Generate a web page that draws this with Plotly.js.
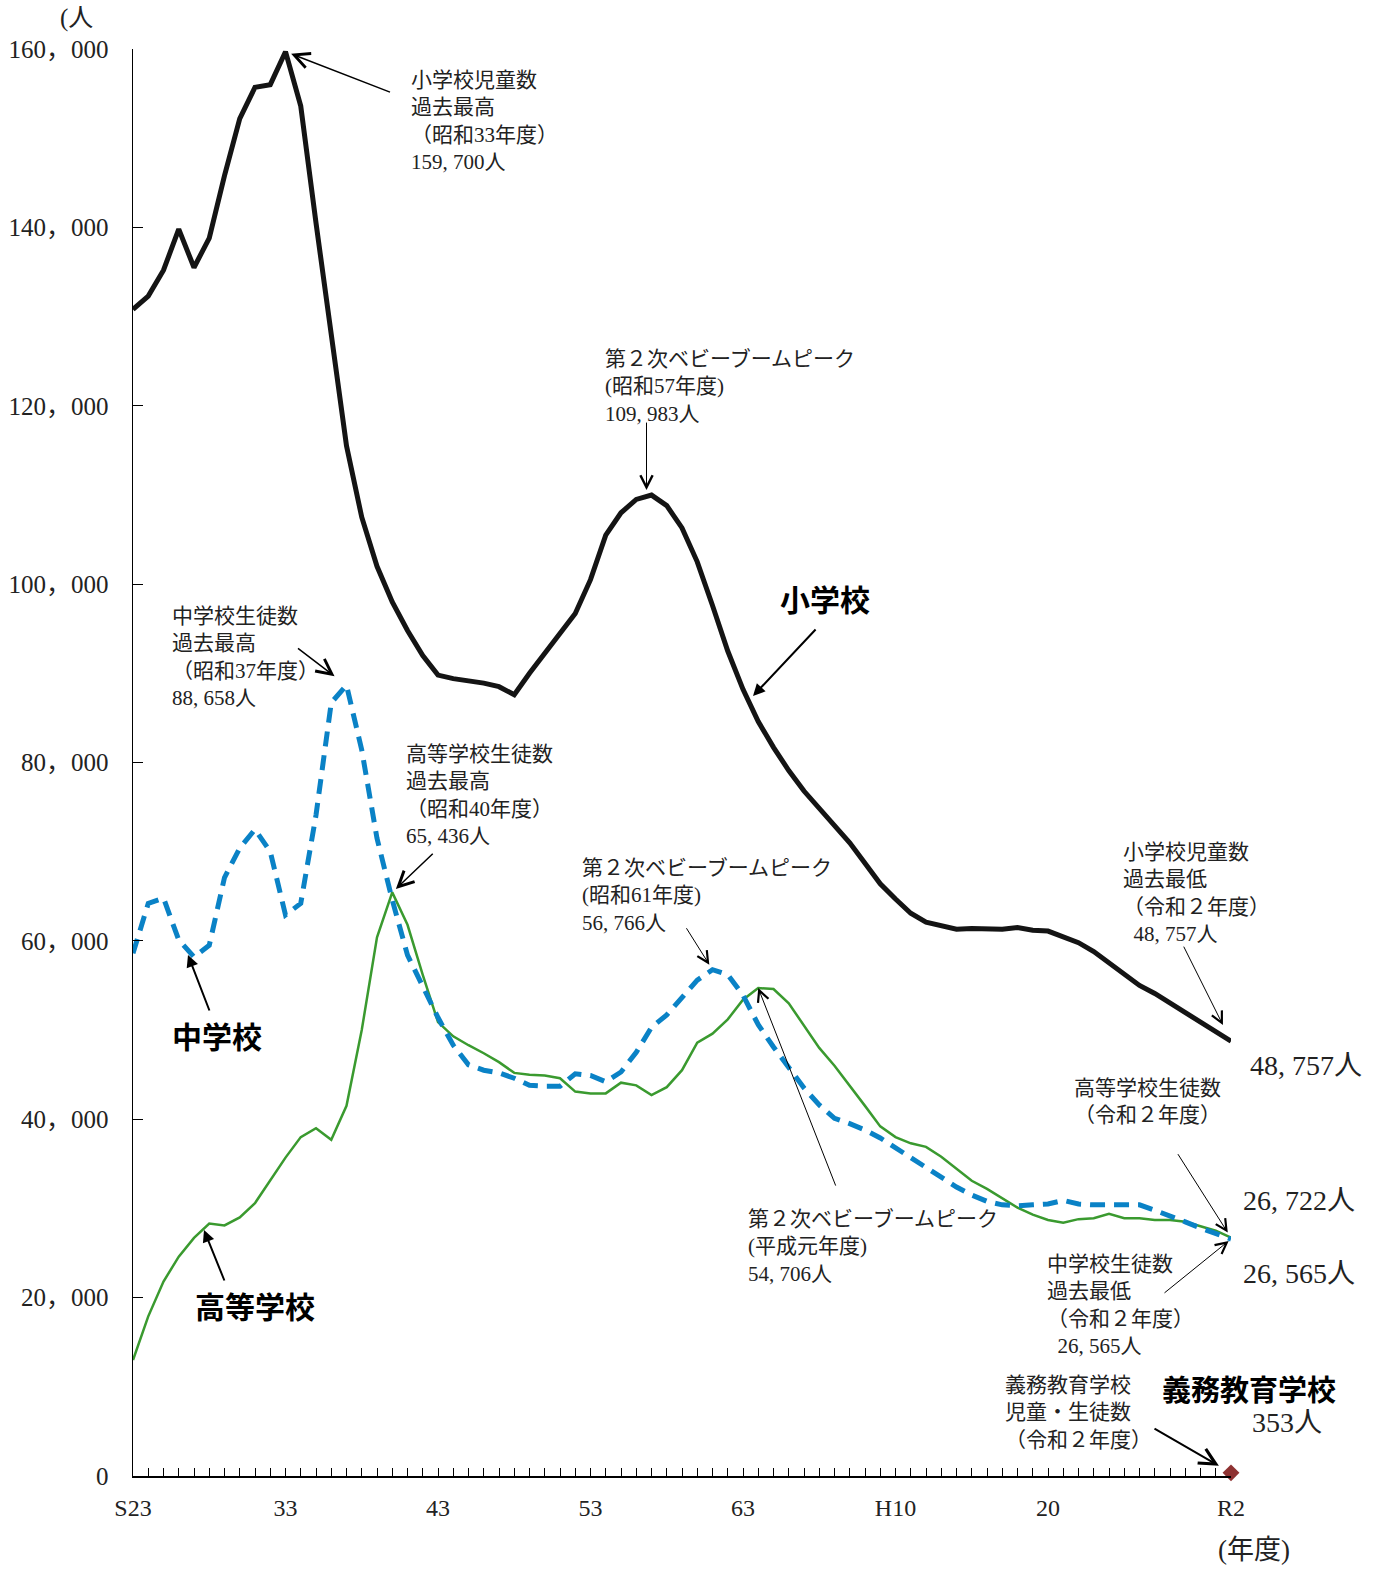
<!DOCTYPE html>
<html>
<head>
<meta charset="utf-8">
<script src="https://cdn.plot.ly/plotly-3.0.1.min.js"></script>
<style>html,body{margin:0;padding:0;background:#fff;}#chart{width:1400px;height:1587px;}</style>
</head>
<body>
<div id="chart"></div>
<script>
const years = [1948,1949,1950,1951,1952,1953,1954,1955,1956,1957,1958,1959,1960,1961,1962,1963,1964,1965,1966,1967,1968,1969,1970,1971,1972,1973,1974,1975,1976,1977,1978,1979,1980,1981,1982,1983,1984,1985,1986,1987,1988,1989,1990,1991,1992,1993,1994,1995,1996,1997,1998,1999,2000,2001,2002,2003,2004,2005,2006,2007,2008,2009,2010,2011,2012,2013,2014,2015,2016,2017,2018,2019,2020];

const primary = [130800,132300,135200,139800,135500,138800,145800,152200,155700,156000,159700,153600,140500,128000,115500,107500,102000,98000,94800,92000,89800,89400,89200,88900,88500,87600,90000,92300,94600,96700,100500,105500,108000,109500,109983,108800,106300,102500,97600,92500,88200,84600,81700,79100,76800,74900,72900,71000,68700,66400,64700,63100,62100,61700,61300,61400,61300,61300,61500,61200,61100,60500,59800,58800,57500,56200,55000,54100,53000,51900,50800,49800,48757];

const middle = [58600,64200,64800,60100,58200,59500,67100,70400,72500,70000,62900,64200,74100,86700,88658,81400,71500,64600,58400,54800,51400,48300,46100,45500,45200,44600,43800,43700,43700,45100,44900,44200,45300,47500,50300,51700,53600,55600,56766,56200,53900,50600,48100,45700,43500,41600,40100,39500,38800,37900,36800,35700,34500,33500,32400,31500,30800,30400,30300,30400,30500,30900,30500,30400,30400,30400,30400,29800,29200,28500,27800,27200,26565];

const high = [13000,17900,21800,24600,26700,28300,28100,29000,30600,33200,35700,38000,39000,37700,41500,50000,60400,65436,61800,56200,50900,49300,48300,47400,46400,45200,45000,44900,44600,43100,42900,42900,44100,43800,42700,43600,45500,48600,49600,51200,53400,54706,54600,53000,50500,48000,46000,43800,41500,39200,38000,37300,36900,35800,34500,33100,32200,31100,30100,29300,28700,28400,28800,28900,29400,28900,28900,28700,28700,28500,28000,27500,26722];

const compYears = [2020];
const compValues = [353];

const xTickVals = [1948,1958,1968,1978,1988,1998,2008,2020];
const xTickText = ['S23','33','43','53','63','H10','20','R2'];
const yTickVals = [0,20000,40000,60000,80000,100000,120000,140000,160000];
const yTickText = ['0','20，000','40，000','60，000','80，000','100，000','120，000','140，000','160，000'];

const SERIF = 'Liberation Serif, "Noto Sans CJK JP", serif';
const GOTHIC = '"Noto Sans CJK JP", sans-serif';
const TXT = '#222';

// plot area in pixels
const L = 133, R = 1231, T = 49, B = 1476;
function px2paper(px, py) { return {x: (px - L) / (R - L), y: (B - py) / (B - T)}; }

const annotations = [];
function label(text, px, py, size, bold) {
  const p = px2paper(px, py);
  annotations.push({xref:'paper', yref:'paper', x:p.x, y:p.y, xanchor:'left', yanchor:'middle',
    text: bold ? '<b>' + text + '</b>' : text, showarrow:false, align:'left',
    font:{family: bold ? GOTHIC : SERIF, size:size, color: bold ? '#000' : TXT}});
}
function arrowData(x, y, ax, ay, o) {
  annotations.push(Object.assign({xref:'x', yref:'y', x:x, y:y, ax:ax, ay:ay, axref:'pixel', ayref:'pixel',
    text:'', showarrow:true, arrowhead:5, arrowsize:2.2, arrowwidth:1, arrowcolor:'#000', standoff:0}, o || {}));
}
function arrowPx(hx, hy, tx, ty, o) {
  const p = px2paper(hx, hy);
  annotations.push(Object.assign({xref:'paper', yref:'paper', x:p.x, y:p.y, ax:tx - hx, ay:ty - hy,
    text:'', showarrow:true, arrowhead:2, arrowsize:1.2, arrowwidth:2, arrowcolor:'#000', standoff:0}, o || {}));
}

// unit labels
label('(人', 58, 18, 25, false);
label('(年度)', 1216, 1550, 27, false);

// callouts
label('小学校児童数<br>過去最高<br>（昭和33年度）<br>159, 700人', 409, 121, 21, false);
arrowData(1958, 159700, 106, 41, {standoff:6, arrowwidth:1.5, arrowsize:2});

label('第２次ベビーブームピーク<br>(昭和57年度)<br>109, 983人', 603, 386, 21, false);
arrowData(1982, 109983, 0, -74, {standoff:5, xshift:-5, arrowwidth:1, arrowsize:2.4});

label('小学校', 778, 598, 30, true);
arrowPx(753, 696, 817, 628);

label('中学校生徒数<br>過去最高<br>（昭和37年度）<br>88, 658人', 170, 657, 21, false);
arrowData(1962, 88658, -50, -38, {standoff:15, arrowwidth:1.5, arrowsize:2});

label('高等学校生徒数<br>過去最高<br>（昭和40年度）<br>65, 436人', 404, 795, 21, false);
arrowData(1965, 65436, 42, -40, {standoff:5, arrowwidth:1.5, arrowsize:2});

label('第２次ベビーブームピーク<br>(昭和61年度)<br>56, 766人', 580, 895, 21, false);
arrowData(1986, 56766, -27, -43, {standoff:6});

label('中学校', 170, 1035, 30, true);
arrowPx(188, 955, 210, 1012);

label('高等学校', 193, 1305, 30, true);
arrowPx(204, 1230, 225, 1282);

label('第２次ベビーブームピーク<br>(平成元年度)<br>54, 706人', 746, 1246, 21, false);
arrowData(1989, 54706, 78, 199, {standoff:0});

label('小学校児童数<br>過去最低<br>（令和２年度）<br>\u00a0\u00a048, 757人', 1121, 893, 21, false);
arrowData(2020, 48757, -48, -96, {standoff:18});
label('48, 757人', 1248, 1065, 28, false);

label('高等学校生徒数<br>（令和２年度）', 1072, 1101, 21, false);
arrowData(2020, 26722, -54, -85, {standoff:6});
label('26, 722人', 1241, 1200, 28, false);

label('中学校生徒数<br>過去最低<br>（令和２年度）<br>\u00a0\u00a026, 565人', 1045, 1305, 21, false);
arrowData(2020, 26565, -68, 55, {standoff:3});
label('26, 565人', 1241, 1273, 28, false);

label('義務教育学校<br>児童・生徒数<br>（令和２年度）', 1003, 1412, 21, false);
arrowData(2020, 353, -78, -45, {standoff:14, arrowwidth:2, arrowsize:1.6});
label('義務教育学校', 1160, 1388, 29, true);
label('353人', 1250, 1422, 28, false);

const traces = [
  {x: years, y: high, type:'scatter', mode:'lines', name:'高等学校', cliponaxis:false,
   line:{color:'#3a9a2f', width:2.5}},
  {x: years, y: middle, type:'scatter', mode:'lines', name:'中学校', cliponaxis:false,
   line:{color:'#0a82c6', width:5, dash:'15px,9px'}},
  {x: years, y: primary, type:'scatter', mode:'lines', name:'小学校', cliponaxis:false,
   line:{color:'#141414', width:5}},
  {x: compYears, y: compValues, type:'scatter', mode:'markers', name:'義務教育学校', cliponaxis:false,
   marker:{symbol:'diamond', size:13, color:'#8e3232'}}
];

const layout = {
  width:1400, height:1587,
  margin:{l:L, r:1400 - R, t:T, b:1587 - B, pad:0},
  paper_bgcolor:'#fff', plot_bgcolor:'#fff',
  showlegend:false,
  font:{family:SERIF, color:TXT},
  xaxis:{range:[1948, 2020], tickmode:'array', tickvals:xTickVals, ticktext:xTickText,
    ticks:'inside', ticklen:8, tickwidth:1, tickcolor:'#000',
    showline:true, linecolor:'#000', linewidth:1.5, showgrid:false, zeroline:false,
    tickfont:{family:SERIF, size:24, color:TXT}, ticklabelstandoff:10,
    minor:{tick0:1948, dtick:1, ticks:'inside', ticklen:8, tickwidth:1, tickcolor:'#000', showgrid:false}},
  yaxis:{range:[0, 160000], tickmode:'array', tickvals:yTickVals, ticktext:yTickText,
    ticks:'inside', ticklen:10, tickwidth:1, tickcolor:'#000',
    showline:true, linecolor:'#000', linewidth:1.5, showgrid:false, zeroline:false,
    tickfont:{family:SERIF, size:25, color:TXT}, ticklabelstandoff:18},
  annotations: annotations
};

Plotly.newPlot('chart', traces, layout, {staticPlot:true, displayModeBar:false});
</script>
</body>
</html>
